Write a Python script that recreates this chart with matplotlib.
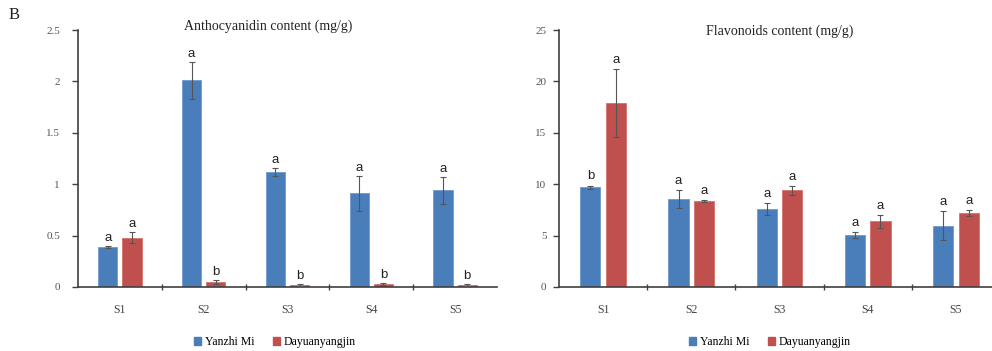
import matplotlib
matplotlib.use("Agg")
import matplotlib.pyplot as plt
from matplotlib.patches import Patch
import numpy as np

categories = ["S1", "S2", "S3", "S4", "S5"]
series_names = ["Yanzhi Mi", "Dayuanyangjin"]

antho_yanzhi = [0.39, 2.01, 1.12, 0.91, 0.94]
antho_yanzhi_err = [0.01, 0.18, 0.04, 0.17, 0.13]
antho_dayuan = [0.48, 0.05, 0.02, 0.03, 0.02]
antho_dayuan_err = [0.055, 0.02, 0.01, 0.01, 0.01]
antho_letters_yanzhi = ["a", "a", "a", "a", "a"]
antho_letters_dayuan = ["a", "b", "b", "b", "b"]

flav_yanzhi = [9.72, 8.55, 7.6, 5.05, 5.96]
flav_yanzhi_err = [0.15, 0.9, 0.55, 0.3, 1.4]
flav_dayuan = [17.9, 8.39, 9.39, 6.38, 7.19]
flav_dayuan_err = [3.3, 0.1, 0.4, 0.65, 0.3]
flav_letters_yanzhi = ["b", "a", "a", "a", "a"]
flav_letters_dayuan = ["a", "a", "a", "a", "a"]

antho_ticks = [0, 0.5, 1, 1.5, 2, 2.5]
antho_ticklabels = ["0", "0.5", "1", "1.5", "2", "2.5"]
flav_ticks = [0, 5, 10, 15, 20, 25]
flav_ticklabels = ["0", "5", "10", "15", "20", "25"]

BLUE = "#4a7ebb"
BLUE_EDGE = "#6e98cc"
RED = "#c0504d"
RED_EDGE = "#d4716e"
AXIS = "#404040"
SERIF = ["Liberation Serif", "DejaVu Serif"]
SANS = ["Liberation Sans", "DejaVu Sans"]

fig = plt.figure(figsize=(9.92, 3.51), dpi=100)


def panel(rect, title, ya, yae, yd, yde, la, ld, ticks, ticklabels, ymax,
          letter_pad, ypad, title_y):
    ax = fig.add_axes(rect)
    x = np.arange(len(categories))
    w = 0.23
    off = 0.145
    ax.bar(x - off, ya, w, color=BLUE, edgecolor=BLUE_EDGE, linewidth=0.6, zorder=2)
    ax.bar(x + off, yd, w, color=RED, edgecolor=RED_EDGE, linewidth=0.6, zorder=2)
    ax.errorbar(x - off, ya, yerr=yae, fmt="none", ecolor="#555555",
                elinewidth=0.8, capsize=2, capthick=0.8, zorder=3)
    ax.errorbar(x + off, yd, yerr=yde, fmt="none", ecolor="#555555",
                elinewidth=0.8, capsize=2, capthick=0.8, zorder=3)
    for xs, vals, errs, letters in ((x - off, ya, yae, la), (x + off, yd, yde, ld)):
        for xi, v, e, t in zip(xs, vals, errs, letters):
            ax.text(xi, v + e + letter_pad, t, ha="center", va="bottom",
                    fontsize=9.5, family=SANS, color="#222222")

    ax.set_xlim(-0.5, len(categories) - 0.5)
    ax.set_ylim(0, ymax)
    ax.set_yticks(ticks)
    ax.set_yticklabels(ticklabels, family=SERIF, fontsize=8, color="#555555")
    ax.set_xticks(x)
    ax.set_xticklabels(categories, family=SERIF, fontsize=8.5, color="#444444")
    ax.set_xticks(np.arange(0.5, len(categories) - 0.5, 1.0), minor=True)
    ax.tick_params(axis="x", which="major", length=0, pad=12)
    ax.tick_params(axis="x", which="minor", length=4, direction="inout",
                   color=AXIS, width=1.0)
    ax.tick_params(axis="y", which="major", length=4, direction="out",
                   color=AXIS, width=1.0, pad=ypad)
    for s in ("top", "right"):
        ax.spines[s].set_visible(False)
    for s in ("left", "bottom"):
        ax.spines[s].set_color(AXIS)
        ax.spines[s].set_linewidth(1.2)
    ax.set_title(title, family=SERIF, fontsize=10, color="#222222", pad=0, y=title_y)
    return ax


bottom = (351 - 287) / 351
height = (287 - 30) / 351

ax1 = panel([78 / 992, bottom, 419 / 992, height], "Anthocyanidin content (mg/g)",
            antho_yanzhi, antho_yanzhi_err, antho_dayuan, antho_dayuan_err,
            antho_letters_yanzhi, antho_letters_dayuan,
            antho_ticks, antho_ticklabels, 2.5, 0.02, 9, 1.0)
ax2 = panel([559 / 992, bottom, 441 / 992, height], "Flavonoids content (mg/g)",
            flav_yanzhi, flav_yanzhi_err, flav_dayuan, flav_dayuan_err,
            flav_letters_yanzhi, flav_letters_dayuan,
            flav_ticks, flav_ticklabels, 25, 0.3, 5, 0.98)
ax1.title.set_x(0.455)

handles = [Patch(facecolor=BLUE, edgecolor=BLUE), Patch(facecolor=RED, edgecolor=RED)]
for cx in (275 / 992, 770 / 992):
    fig.legend(handles, series_names, loc="center", bbox_to_anchor=(cx, 1 - 342 / 351),
               ncol=2, frameon=False, handlelength=0.6, handleheight=0.6,
               handletextpad=0.3, columnspacing=1.6,
               prop={"family": SERIF, "size": 8.5})

fig.text(14 / 992, 1 - 15 / 351, "B", family=SERIF, fontsize=12, color="#222222",
         ha="center", va="center")

fig.savefig("out.png", dpi=100, facecolor="white")
